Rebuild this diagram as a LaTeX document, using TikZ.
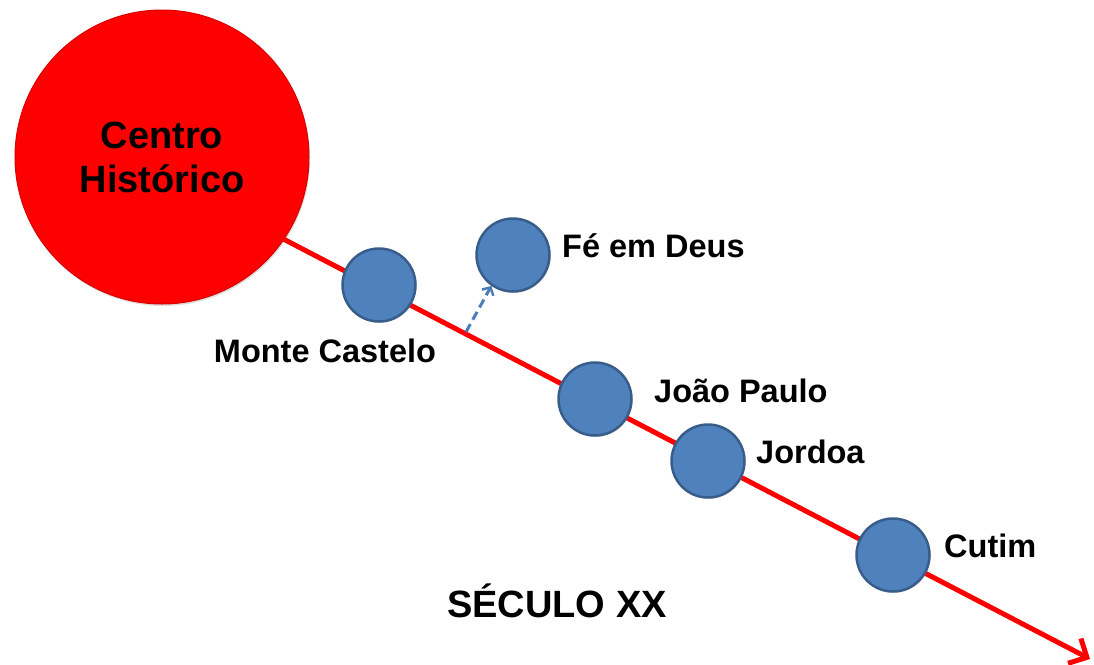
\documentclass[tikz,border=0pt]{standalone}
\usepackage{fontspec}
\setmainfont{Liberation Sans}
\usetikzlibrary{arrows.meta,shadows}
\definecolor{nodeblue}{HTML}{4F81BD}
\definecolor{nodeedge}{HTML}{385D8A}
\definecolor{dashblue}{HTML}{4A7EBB}
\tikzset{
  big/.style={circle,fill=red,draw=red!85!black,line width=1pt,minimum size=294pt,inner sep=0pt,
    drop shadow={shadow xshift=1pt,shadow yshift=-2pt,opacity=0.25},align=center,
    font=\fontsize{38}{44}\selectfont\bfseries},
  small/.style={circle,fill=nodeblue,draw=nodeedge,line width=2.5pt,minimum size=73pt,inner sep=0pt,
    drop shadow={shadow xshift=1pt,shadow yshift=-1.5pt,opacity=0.2}},
  lbl/.style={font=\fontsize{32.5}{36}\selectfont\bfseries,inner sep=0pt},
  timeline/.style={red,line width=5pt,-{Straight Barb[length=14pt,width=28pt,line width=5pt]}},
  branch/.style={dashblue,line width=3pt,dash pattern=on 9pt off 5pt,-{Straight Barb[length=6pt,width=13pt,line width=2.5pt]}}
}
\begin{document}
\begin{tikzpicture}[x=1pt,y=-1pt]
\useasboundingbox (0,0) rectangle (1094,664);
\node[big] (centro) at (162,157) {Centro\\Histórico};
\coordinate (tip) at (1090,659);
\draw[timeline] (centro.-34) -- (tip);
\coordinate (bstart) at (466,332);
\node[small] (monte) at (379,285) {};
\node[small] (fe) at (513,255) {};
\node[small] (joao) at (595,399) {};
\node[small] (jordoa) at (708,461) {};
\node[small] (cutim) at (893,555) {};
\draw[branch] (bstart) -- (fe.-125);
\node[lbl] (lmonte) at (325,351) {Monte Castelo};
\node[lbl,anchor=west] (lfe) at (562,246) {Fé em Deus};
\node[lbl,anchor=west] (ljoao) at (654,391) {João Paulo};
\node[lbl,anchor=west] (ljordoa) at (756,452) {Jordoa};
\node[lbl,anchor=west] (lcutim) at (944,546) {Cutim};
\node[lbl,font=\fontsize{38}{42}\selectfont\bfseries] (sec) at (557,601) {SÉCULO XX};
\end{tikzpicture}
\end{document}
